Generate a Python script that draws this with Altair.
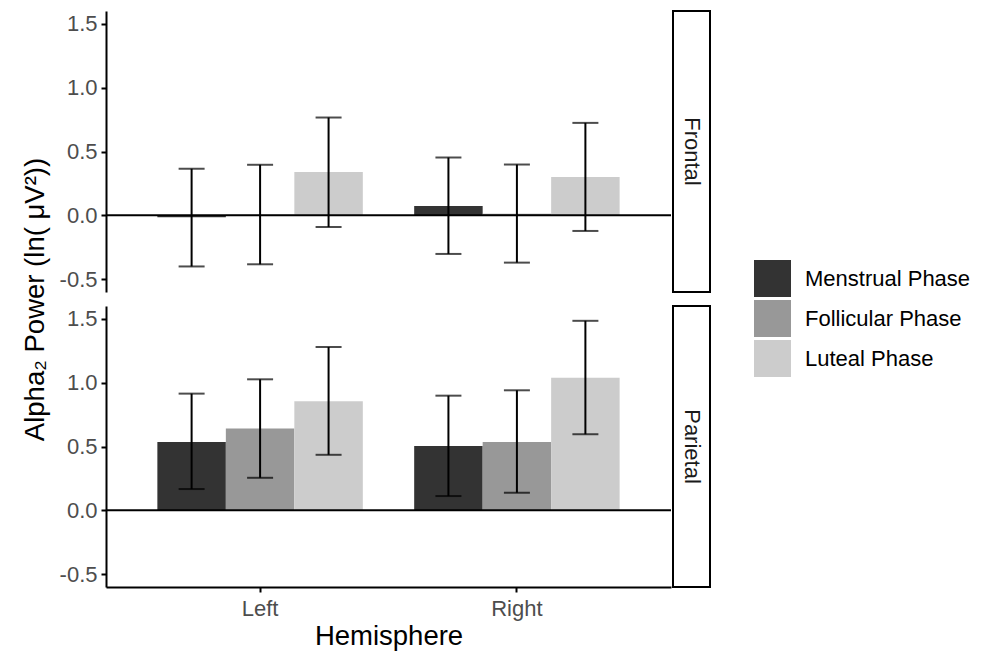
import altair as alt
import pandas as pd

FONT = "Liberation Sans"

regions = ["Frontal", "Parietal"]
hemispheres = ["Left", "Right"]
phases = ["Menstrual Phase", "Follicular Phase", "Luteal Phase"]
phase_colors = ["#333333", "#989898", "#cccccc"]

# values per phase (Menstrual, Follicular, Luteal)
frontal_left_mean = [-0.015, 0.005, 0.339]
frontal_left_lower = [-0.400, -0.383, -0.091]
frontal_left_upper = [0.365, 0.396, 0.766]
frontal_right_mean = [0.073, 0.012, 0.300]
frontal_right_lower = [-0.302, -0.370, -0.122]
frontal_right_upper = [0.453, 0.398, 0.724]
parietal_left_mean = [0.536, 0.641, 0.854]
parietal_left_lower = [0.167, 0.255, 0.435]
parietal_left_upper = [0.914, 1.026, 1.279]
parietal_right_mean = [0.503, 0.536, 1.039]
parietal_right_lower = [0.112, 0.138, 0.596]
parietal_right_upper = [0.898, 0.940, 1.484]

y_ticks = [-0.5, 0.0, 0.5, 1.0, 1.5]
y_domain = [-0.6, 1.6]

rows = []
groups = [
    ("Frontal", "Left", frontal_left_mean, frontal_left_lower, frontal_left_upper),
    ("Frontal", "Right", frontal_right_mean, frontal_right_lower, frontal_right_upper),
    ("Parietal", "Left", parietal_left_mean, parietal_left_lower, parietal_left_upper),
    ("Parietal", "Right", parietal_right_mean, parietal_right_lower, parietal_right_upper),
]
for reg, hem, m, lo, up in groups:
    for i, ph in enumerate(phases):
        rows.append({"Region": reg, "Hemisphere": hem, "Phase": ph,
                     "Mean": m[i], "Lower": lo[i], "Upper": up[i]})
df = pd.DataFrame(rows)

W, H = 565, 281
TICK_FS = 22
TITLE_FS = 27.5
LABEL_EXPR = "replace(format(datum.value, '.1f'), '\u2212', '-')"


def panel(region, bottom, ytitle):
    d = df[df.Region == region]
    base = alt.Chart(d)
    if bottom:
        xaxis = alt.Axis(title="Hemisphere", labelAngle=0, labelFontSize=TICK_FS,
                         labelColor="#4d4d4d", titleFontSize=TITLE_FS, titleFontWeight="normal",
                         titleColor="black", domainColor="black", domainWidth=2,
                         tickColor="black", tickWidth=2, tickSize=5, labelPadding=6,
                         titlePadding=3, labelFont=FONT, titleFont=FONT)
    else:
        xaxis = None
    x = alt.X("Hemisphere:N", sort=hemispheres,
              scale=alt.Scale(paddingInner=0.2, paddingOuter=0.2), axis=xaxis)
    xo = alt.XOffset("Phase:N", sort=phases,
                     scale=alt.Scale(domain=phases, paddingInner=0, paddingOuter=0))
    yaxis_kwargs = dict(values=y_ticks, labelExpr=LABEL_EXPR, labelFontSize=TICK_FS,
                        labelColor="#4d4d4d", domainColor="black", domainWidth=2,
                        tickColor="black", tickWidth=2, tickSize=5, grid=False,
                        labelPadding=4, labelFont=FONT, titleFont=FONT)
    if ytitle:
        yaxis = alt.Axis(title="Alpha\u2082 Power (ln( \u03bcV\u00b2))", titleFontSize=TITLE_FS,
                         titleFontWeight="normal", titleColor="black", titleY=288,
                         titlePadding=10, **yaxis_kwargs)
    else:
        yaxis = alt.Axis(title=None, **yaxis_kwargs)
    yscale = alt.Scale(domain=y_domain, nice=False, zero=False)

    bars = base.mark_bar().encode(
        x=x, xOffset=xo,
        y=alt.Y("Mean:Q", scale=yscale, axis=yaxis),
        y2=alt.datum(0),
        color=alt.Color("Phase:N", sort=phases,
                        scale=alt.Scale(domain=phases, range=phase_colors),
                        legend=alt.Legend(title=None, orient="none", legendX=648, legendY=249,
                                          symbolType="square", symbolSize=1369,
                                          symbolStrokeWidth=0, labelFontSize=TICK_FS,
                                          labelColor="black", labelFont=FONT, labelLimit=400,
                                          rowPadding=3, labelOffset=14)),
    )
    zero = alt.Chart(pd.DataFrame({"zero": [0.0]})).mark_rule(
        color="black", strokeWidth=2).encode(y=alt.Y("zero:Q", scale=yscale, axis=yaxis))
    err = base.mark_rule(color="black", strokeWidth=2).encode(
        x=x, xOffset=xo, y=alt.Y("Lower:Q", scale=yscale, axis=yaxis), y2="Upper:Q")
    cap_lo = base.mark_tick(color="black", thickness=2, size=26, orient="horizontal").encode(
        x=x, xOffset=xo, y=alt.Y("Lower:Q", scale=yscale, axis=yaxis))
    cap_hi = base.mark_tick(color="black", thickness=2, size=26, orient="horizontal").encode(
        x=x, xOffset=xo, y=alt.Y("Upper:Q", scale=yscale, axis=yaxis))
    sdata = alt.Chart(pd.DataFrame({"Region": [region]}))
    strip_box = sdata.mark_rect(fill="white", stroke="black", strokeWidth=2).encode(
        x=alt.value(W + 2), x2=alt.value(W + 39), y=alt.value(0), y2=alt.value(H))
    strip_text = sdata.mark_text(angle=90, fontSize=TICK_FS, color="#1a1a1a", font=FONT).encode(
        text="Region:N", x=alt.value(W + 20.5), y=alt.value(H / 2))
    return alt.layer(bars, zero, err, cap_lo, cap_hi, strip_box, strip_text).properties(
        width=W, height=H)


chart = alt.vconcat(
    panel("Frontal", False, True),
    panel("Parietal", True, False),
    spacing=14, bounds="flush",
).properties(
    padding={"left": 13, "top": 2, "right": 5, "bottom": 5}
).configure(font=FONT).configure_view(strokeWidth=0, stroke="transparent")

chart.save("out.html", embed_options={"renderer": "svg", "actions": False})
